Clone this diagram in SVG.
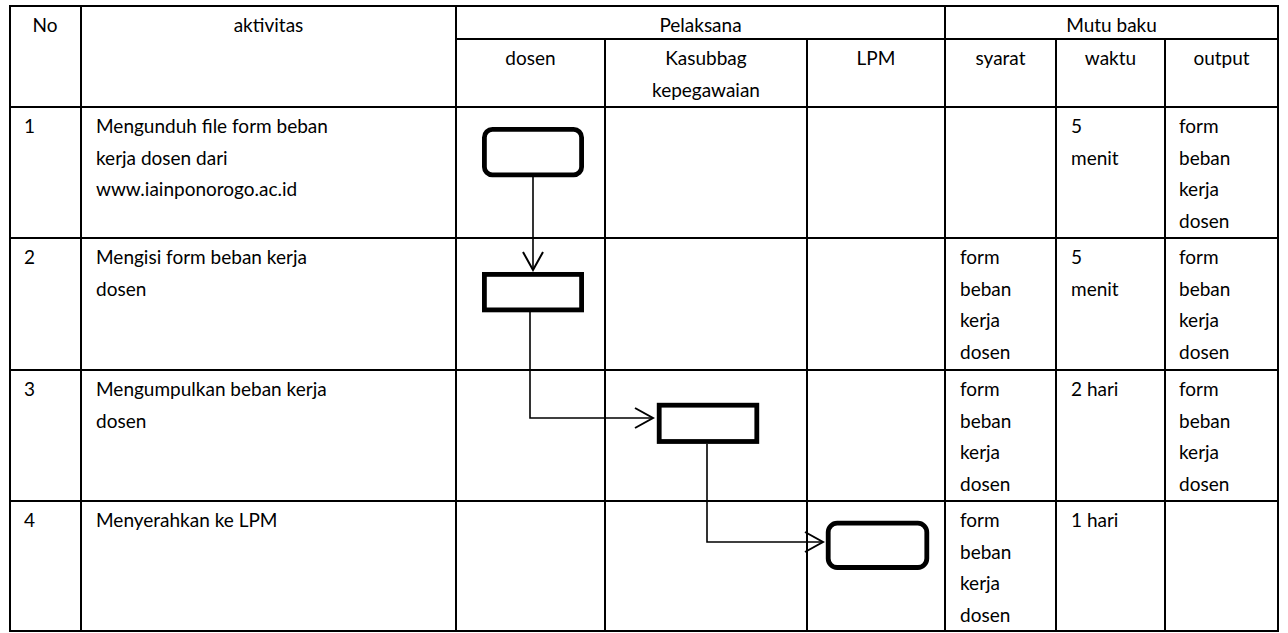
<svg xmlns="http://www.w3.org/2000/svg" width="1288" height="633" viewBox="0 0 1288 633">
<style>
.t{font-family:Lato,"Open Sans","Liberation Sans",sans-serif;font-size:19px;fill:#000}
.c{text-anchor:middle}
.g{stroke:#000;stroke-width:2;fill:none}
.n{fill:#fff;stroke:#000;stroke-width:4.8}
.e{fill:none;stroke:#000;stroke-width:1.6}
</style>
<defs>
<marker id="ah" viewBox="-20 -12 22 24" refX="0" refY="0" markerWidth="22" markerHeight="24" markerUnits="userSpaceOnUse" orient="auto">
<path d="M-18,-10 L0,0 L-18,10" fill="none" stroke="#000" stroke-width="2"/>
</marker>
</defs>
<rect width="1288" height="633" fill="#fff"/>
<g id="grid" class="g">
<rect x="10" y="6" width="1268" height="625"/>
<line x1="456" y1="39" x2="1278" y2="39"/>
<line x1="10" y1="107" x2="1278" y2="107"/>
<line x1="10" y1="238" x2="1278" y2="238"/>
<line x1="10" y1="370" x2="1278" y2="370"/>
<line x1="10" y1="501" x2="1278" y2="501"/>
<line x1="81" y1="6" x2="81" y2="631"/>
<line x1="456" y1="6" x2="456" y2="631"/>
<line x1="945" y1="6" x2="945" y2="631"/>
<line x1="605" y1="39" x2="605" y2="631"/>
<line x1="807" y1="39" x2="807" y2="631"/>
<line x1="1056" y1="39" x2="1056" y2="631"/>
<line x1="1165" y1="39" x2="1165" y2="631"/>
</g>
<g id="header" class="t">
<text class="c" x="45" y="32">No</text>
<text class="c" x="268.5" y="32">aktivitas</text>
<text class="c" x="700.5" y="32">Pelaksana</text>
<text class="c" x="1111.5" y="32">Mutu baku</text>
<text class="c" x="530.5" y="65">dosen</text>
<text class="c" x="706" y="65">Kasubbag</text>
<text class="c" x="706" y="96.7">kepegawaian</text>
<text class="c" x="876" y="65">LPM</text>
<text class="c" x="1000.5" y="65">syarat</text>
<text class="c" x="1110.5" y="65">waktu</text>
<text class="c" x="1221.5" y="65">output</text>
</g>
<g id="row1" class="t">
<text x="24" y="133">1</text>
<text x="96" y="133">Mengunduh file form beban</text>
<text x="96" y="164.7">kerja dosen dari</text>
<text x="96" y="196.4">www.iainponorogo.ac.id</text>
<text x="1071" y="133">5</text>
<text x="1071" y="164.7">menit</text>
<text x="1179" y="133">form</text>
<text x="1179" y="164.7">beban</text>
<text x="1179" y="196.4">kerja</text>
<text x="1179" y="228.1">dosen</text>
</g>
<g id="row2" class="t">
<text x="24" y="264">2</text>
<text x="96" y="264">Mengisi form beban kerja</text>
<text x="96" y="295.7">dosen</text>
<text x="960" y="264">form</text>
<text x="960" y="295.7">beban</text>
<text x="960" y="327.4">kerja</text>
<text x="960" y="359.1">dosen</text>
<text x="1071" y="264">5</text>
<text x="1071" y="295.7">menit</text>
<text x="1179" y="264">form</text>
<text x="1179" y="295.7">beban</text>
<text x="1179" y="327.4">kerja</text>
<text x="1179" y="359.1">dosen</text>
</g>
<g id="row3" class="t">
<text x="24" y="396">3</text>
<text x="96" y="396">Mengumpulkan beban kerja</text>
<text x="96" y="427.7">dosen</text>
<text x="960" y="396">form</text>
<text x="960" y="427.7">beban</text>
<text x="960" y="459.4">kerja</text>
<text x="960" y="491.1">dosen</text>
<text x="1071" y="396">2 hari</text>
<text x="1179" y="396">form</text>
<text x="1179" y="427.7">beban</text>
<text x="1179" y="459.4">kerja</text>
<text x="1179" y="491.1">dosen</text>
</g>
<g id="row4" class="t">
<text x="24" y="527">4</text>
<text x="96" y="527">Menyerahkan ke LPM</text>
<text x="960" y="527">form</text>
<text x="960" y="558.7">beban</text>
<text x="960" y="590.4">kerja</text>
<text x="960" y="622.1">dosen</text>
<text x="1071" y="527">1 hari</text>
</g>
<g id="connectors">
<path class="e" d="M533,177 L533,270" marker-end="url(#ah)"/>
<path class="e" d="M530,312 L530,418 L653,418" marker-end="url(#ah)"/>
<path class="e" d="M707,444 L707,542 L823,542" marker-end="url(#ah)"/>
</g>
<g id="node1"><rect class="n" x="484.4" y="129.4" width="97.2" height="45.5" rx="8"/></g>
<g id="node2"><rect class="n" x="484.4" y="274.4" width="97.2" height="35.5"/></g>
<g id="node3"><rect class="n" x="659.2" y="405.2" width="97.6" height="36.3"/></g>
<g id="node4"><rect class="n" x="828.2" y="523.2" width="98.6" height="44.3" rx="9"/></g>
</svg>
